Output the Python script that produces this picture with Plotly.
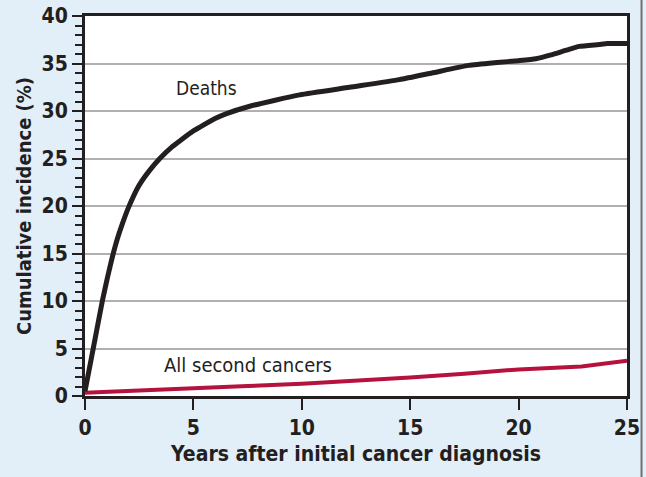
import plotly.graph_objects as go

# Data
death_years = [0, 0.38, 0.8, 1.05, 1.28, 1.5, 1.75, 1.98, 2.25, 2.5, 3.0, 3.45, 4.0,
               4.4, 5.0, 5.3, 6.0, 6.5, 7.6, 9.9, 12.2, 14.5, 16.0, 17.7, 19.0, 20.0,
               20.8, 21.5, 22.2, 22.8, 23.7, 24.1, 25.0]
death_pct = [0.5, 5.0, 10.0, 12.6, 14.8, 16.6, 18.3, 19.7, 21.1, 22.2, 23.8, 25.0, 26.2,
             26.9, 27.9, 28.3, 29.2, 29.7, 30.5, 31.7, 32.5, 33.3, 34.0, 34.8, 35.1, 35.3,
             35.5, 35.9, 36.4, 36.8, 37.0, 37.1, 37.1]

cancer_years = [0, 2.5, 5, 7.5, 10, 12.5, 15, 17.5, 20, 22.9, 23.5, 25]
cancer_pct = [0.35, 0.55, 0.8, 1.05, 1.3, 1.6, 1.95, 2.35, 2.8, 3.1, 3.3, 3.7]

x_ticks = [0, 5, 10, 15, 20, 25]
y_ticks = [0, 5, 10, 15, 20, 25, 30, 35, 40]

FONT_B = "DejaVu Sans Condensed, Liberation Sans Narrow, sans-serif"
DARK = "#231f20"
RED = "#b5123e"

fig = go.Figure()
fig.add_trace(go.Scatter(x=cancer_years, y=cancer_pct, mode="lines",
                         line=dict(color=RED, width=4), showlegend=False))
fig.add_trace(go.Scatter(x=death_years, y=death_pct, mode="lines",
                         line=dict(color=DARK, width=5, shape="spline", smoothing=0.5),
                         showlegend=False))

fig.add_annotation(x=5.6, y=32.4, text="Deaths", showarrow=False,
                   font=dict(family=FONT_B, size=19, color=DARK))
fig.add_annotation(x=7.5, y=3.3, text="All second cancers", showarrow=False,
                   font=dict(family=FONT_B, size=20, color=DARK))

fig.add_shape(type="line", xref="paper", yref="paper", x0=1.0268, x1=1.0268,
              y0=-0.3, y1=1.2, line=dict(color="#6f6f6f", width=2))

fig.update_layout(
    width=646, height=477,
    margin=dict(l=85, r=19, t=16, b=81),
    paper_bgcolor="#e2eef8",
    plot_bgcolor="white",
    font=dict(family=FONT_B, color=DARK),
    xaxis=dict(range=[0, 25], tickvals=x_ticks, ticks="outside", ticklen=11,
               tickwidth=2, tickcolor=DARK, showline=True, linewidth=3, linecolor=DARK,
               mirror=True, showgrid=False, zeroline=False, automargin=False,
               tickfont=dict(family=FONT_B, size=21, color=DARK, weight="bold"),
               title=dict(text="Years after initial cancer diagnosis", standoff=8,
                          font=dict(family=FONT_B, size=21, color=DARK, weight="bold"))),
    yaxis=dict(range=[0, 40], tickvals=y_ticks, ticks="outside", ticklen=10,
               tickwidth=2, tickcolor=DARK, showline=True, linewidth=3, linecolor=DARK,
               mirror=True, showgrid=True, gridcolor="#b0b0b0", gridwidth=1.5,
               zeroline=False, automargin=False,
               minor=dict(dtick=1, ticks="outside", ticklen=7, tickwidth=1.5,
                          tickcolor=DARK, showgrid=False),
               tickfont=dict(family=FONT_B, size=21, color=DARK, weight="bold"),
               title=dict(text="Cumulative incidence (%)", standoff=5,
                          font=dict(family=FONT_B, size=20, color=DARK, weight="bold"))),
)

fig.write_html("out.html", config={"displayModeBar": False},
               post_script="document.body.style.margin='0px';document.body.style.overflow='hidden';")
